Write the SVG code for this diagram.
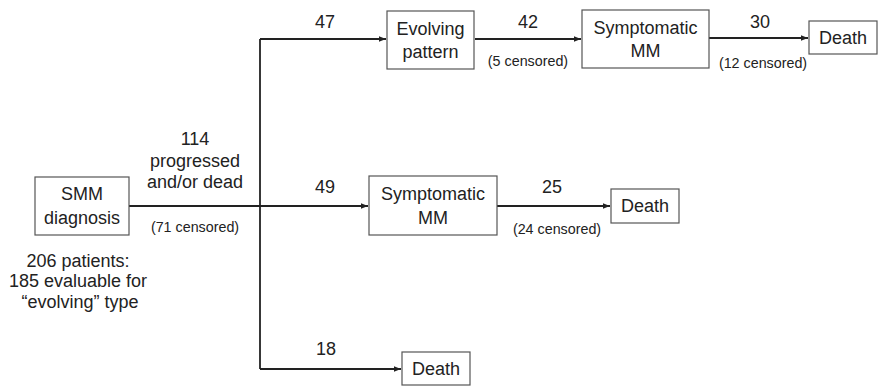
<svg xmlns="http://www.w3.org/2000/svg" width="879" height="386" viewBox="0 0 879 386">
<defs>
<marker id="ah" viewBox="0 0 10 10" refX="10" refY="5" markerWidth="4" markerHeight="4" orient="auto" markerUnits="strokeWidth"><path d="M0,1 L10,5 L0,9 Z" fill="#222"/></marker>
</defs>
<style>
.box{fill:#fff;stroke:#555;stroke-width:1.2}
.t{font-family:"Liberation Sans",Arial,sans-serif;font-size:18px;fill:#222;text-anchor:middle}
.s{font-family:"Liberation Sans",Arial,sans-serif;font-size:14.3px;fill:#222;text-anchor:middle}
.c{fill:none;stroke:#222;stroke-width:1.8}
</style>
<rect width="879" height="386" fill="#fff"/>
<g id="connectors">
<path class="c" d="M129,206 H260"/>
<path class="c" d="M260,39 V369"/>
<path class="c" d="M260,39 H386" marker-end="url(#ah)"/>
<path class="c" d="M260,206 H368" marker-end="url(#ah)"/>
<path class="c" d="M260,369 H401" marker-end="url(#ah)"/>
<path class="c" d="M475,39 H581" marker-end="url(#ah)"/>
<path class="c" d="M709,38 H808" marker-end="url(#ah)"/>
<path class="c" d="M497,206 H610" marker-end="url(#ah)"/>
<text class="t" x="195" y="145">114</text>
<text class="t" x="195" y="167">progressed</text>
<text class="t" x="195" y="188">and/or dead</text>
<text class="s" x="195" y="232">(71 censored)</text>
<text class="t" x="325" y="28">47</text>
<text class="t" x="325" y="193">49</text>
<text class="t" x="326" y="355">18</text>
<text class="t" x="528" y="28">42</text>
<text class="s" x="528" y="66">(5 censored)</text>
<text class="t" x="760" y="28">30</text>
<text class="s" x="763" y="68">(12 censored)</text>
<text class="t" x="552" y="193">25</text>
<text class="s" x="557" y="234">(24 censored)</text>
</g>
<g id="smm">
<rect class="box" x="35" y="177" width="94" height="58"/>
<text class="t" x="82" y="200">SMM</text>
<text class="t" x="82" y="224">diagnosis</text>
<text class="t" x="78" y="267">206 patients:</text>
<text class="t" x="78" y="287">185 evaluable for</text>
<text class="t" x="80" y="308">“evolving” type</text>
</g>
<g id="evolving">
<rect class="box" x="387" y="11" width="87" height="58"/>
<text class="t" x="430.5" y="35">Evolving</text>
<text class="t" x="430.5" y="58">pattern</text>
</g>
<g id="symptomatic1">
<rect class="box" x="582" y="10" width="127" height="58"/>
<text class="t" x="645.5" y="34">Symptomatic</text>
<text class="t" x="645.5" y="57">MM</text>
</g>
<g id="death1">
<rect class="box" x="809" y="21" width="68" height="33"/>
<text class="t" x="843" y="44">Death</text>
</g>
<g id="symptomatic2">
<rect class="box" x="369" y="176" width="128" height="59"/>
<text class="t" x="433" y="200">Symptomatic</text>
<text class="t" x="433" y="224">MM</text>
</g>
<g id="death2">
<rect class="box" x="611" y="189" width="68" height="34"/>
<text class="t" x="645" y="212">Death</text>
</g>
<g id="death3">
<rect class="box" x="402" y="352" width="68" height="33"/>
<text class="t" x="436" y="375">Death</text>
</g>
</svg>
